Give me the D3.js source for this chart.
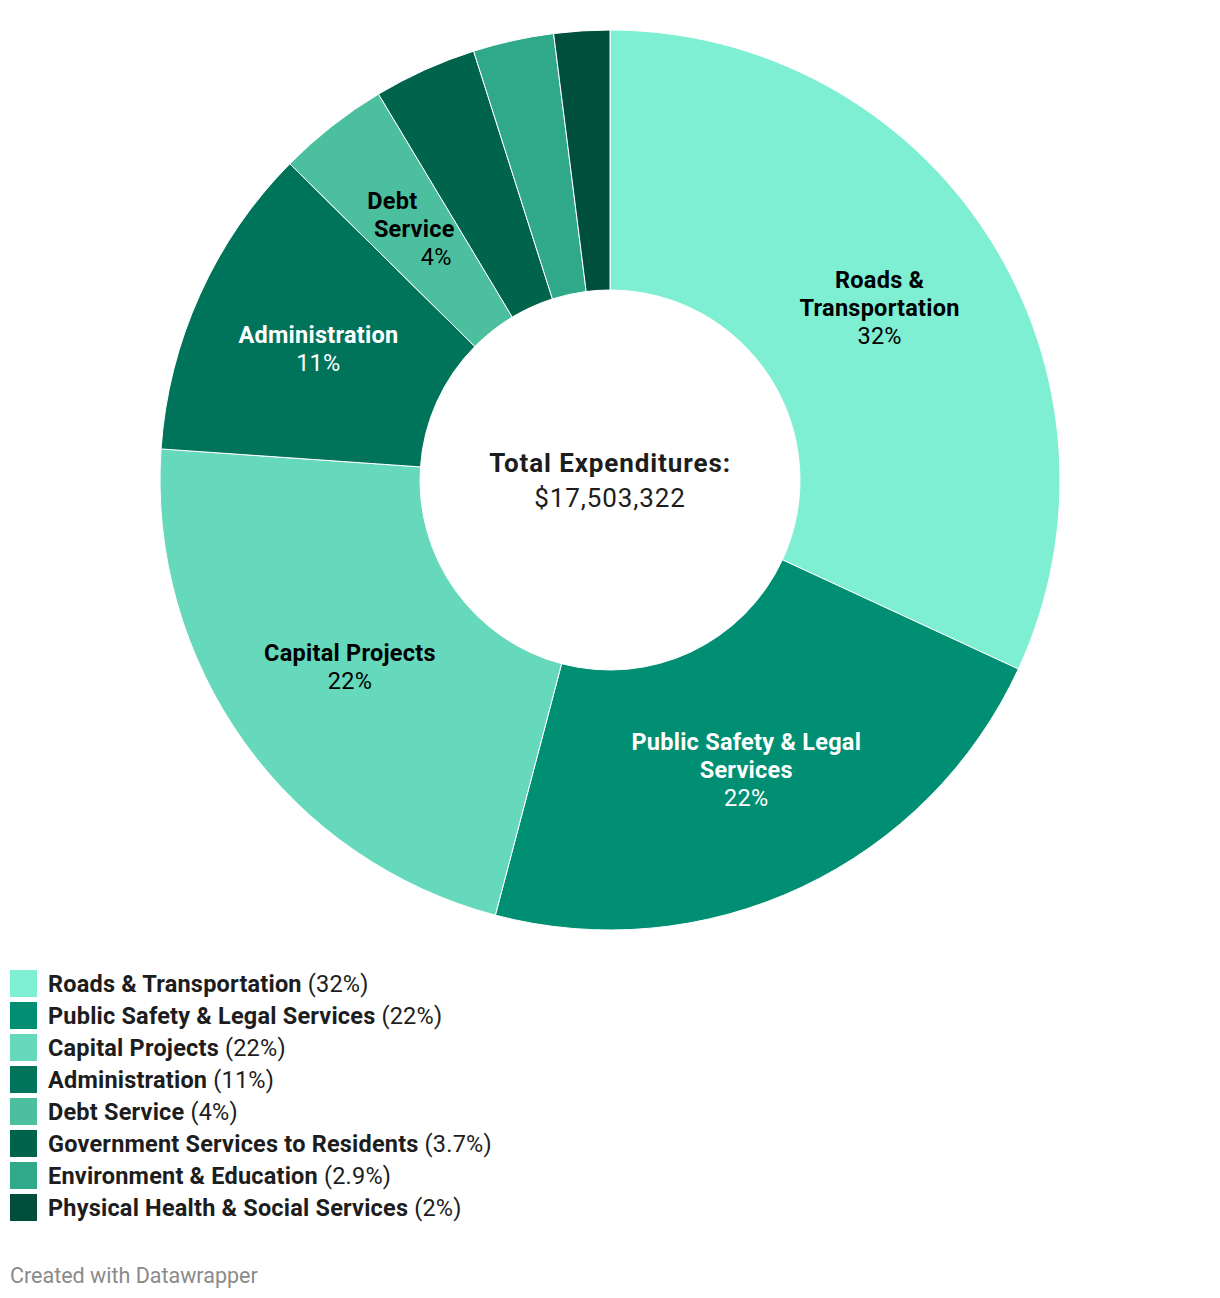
<!DOCTYPE html>
<html>
<head>
<meta charset="utf-8">
<script src="https://cdn.jsdelivr.net/npm/d3@7"></script>
<style>
  body { margin: 0; background: #fff; font-family: Roboto, "Noto Sans", sans-serif; }
  svg text { font-family: Roboto, "Noto Sans", sans-serif; }
</style>
</head>
<body>
<svg id="chart" width="1220" height="1298"></svg>
<script>
// data
const categories = [
  'Roads & Transportation',
  'Public Safety & Legal Services',
  'Capital Projects',
  'Administration',
  'Debt Service',
  'Government Services to Residents',
  'Environment & Education',
  'Physical Health & Social Services'
];
const shares = [31.9, 22.2, 22.0, 11.3, 4.0, 3.7, 2.9, 2.0];
const shareLabels = ['32%', '22%', '22%', '11%', '4%', '3.7%', '2.9%', '2%'];
// slice labels (only big enough slices get one)
const sliceLabelLines = [
  ['Roads &', 'Transportation'],
  ['Public Safety & Legal', 'Services'],
  ['Capital Projects'],
  ['Administration'],
  ['Debt', 'Service'],
  null, null, null
];
const colors = ['#7eefd2', '#008f73', '#66d8bb', '#00745b', '#4cbf9f', '#00634c', '#30a98a', '#004f3d'];
const darkSlice = [false, true, false, true, false, true, true, true];
const totalLabel = 'Total Expenditures:';
const totalValue = '$17,503,322';

const svg = d3.select('#chart');
const cx = 610, cy = 480, rOuter = 450, rInner = 190;

const data = categories.map((c, i) => ({ name: c, value: shares[i], i }));
const pie = d3.pie().value(d => d.value).sort(null);
const arcs = pie(data);
const arc = d3.arc().innerRadius(rInner).outerRadius(rOuter);

const g = svg.append('g').attr('transform', `translate(${cx},${cy})`);

g.selectAll('path').data(arcs).enter().append('path')
  .attr('d', arc)
  .attr('fill', d => colors[d.data.i])
  .attr('stroke', '#fff')
  .attr('stroke-width', 1);

// slice labels
const lineH = 28;
const lab = g.selectAll('g.lab').data(arcs.filter(d => sliceLabelLines[d.data.i])).enter()
  .append('g').attr('class', 'lab')
  .attr('transform', d => { const c = arc.centroid(d); return `translate(${c[0]},${c[1]})`; });

lab.each(function (d) {
  const lines = sliceLabelLines[d.data.i].concat([shareLabels[d.data.i]]);
  const fill = darkSlice[d.data.i] ? '#fff' : '#000';
  const n = lines.length;
  // Debt Service label is drawn slightly slanted in the original
  const shift = d.data.i === 4 ? [-20, 2, 24] : null;
  lines.forEach((t, k) => {
    d3.select(this).append('text')
      .attr('x', shift ? shift[k] : 0)
      .attr('y', (k - (n - 1) / 2) * lineH)
      .attr('dy', '0.35em')
      .attr('text-anchor', 'middle')
      .attr('font-size', 23.5)
      .attr('letter-spacing', 0.25)
      .attr('font-weight', k === n - 1 ? 400 : 700)
      .attr('fill', fill)
      .text(t);
  });
});

// center text
g.append('text').attr('y', -17).attr('dy', '0.35em').attr('text-anchor', 'middle')
  .attr('font-size', 26).attr('letter-spacing', 0.9).attr('font-weight', 700)
  .attr('fill', '#1d1d1d').text(totalLabel);
g.append('text').attr('y', 18).attr('dy', '0.35em').attr('text-anchor', 'middle')
  .attr('font-size', 26).attr('letter-spacing', 0.9).attr('font-weight', 400)
  .attr('fill', '#1d1d1d').text(totalValue);

// legend
const legend = svg.append('g').attr('transform', 'translate(10,970)');
const item = legend.selectAll('g').data(data).enter().append('g')
  .attr('transform', d => `translate(0,${d.i * 32})`);
item.append('rect').attr('width', 27).attr('height', 27).attr('fill', d => colors[d.i]);
const lt = item.append('text').attr('x', 38).attr('y', 14).attr('dy', '0.35em')
  .attr('font-size', 23.5).attr('letter-spacing', 0.2).attr('fill', '#1d1d1d');
lt.append('tspan').attr('font-weight', 700).text(d => d.name);
lt.append('tspan').attr('font-weight', 400).text(d => ` (${shareLabels[d.i]})`);

// credit
svg.append('text').attr('x', 10).attr('y', 1275).attr('dy', '0.35em')
  .attr('font-size', 21.5).attr('fill', '#8a8a8a').text('Created with Datawrapper');
</script>
</body>
</html>
